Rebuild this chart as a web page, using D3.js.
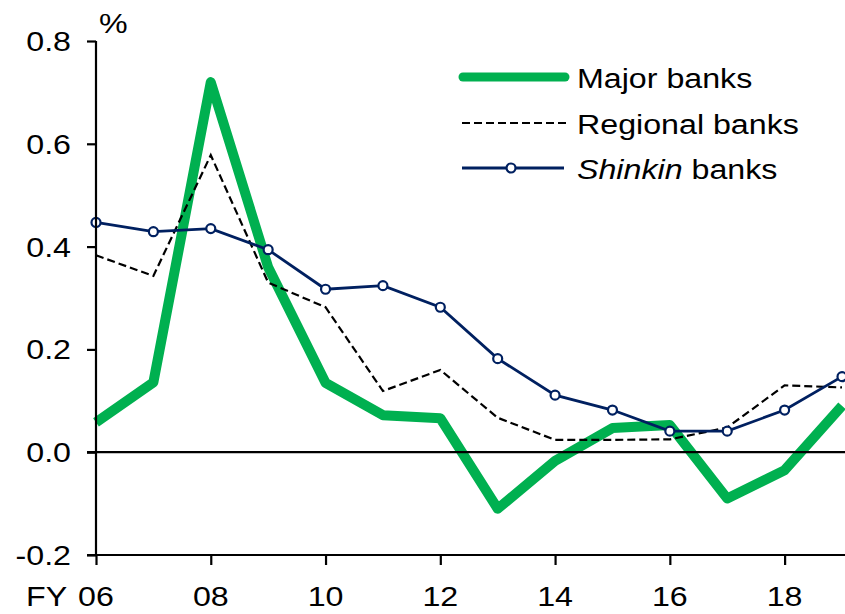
<!DOCTYPE html>
<html>
<head>
<meta charset="utf-8">
<script src="https://cdn.jsdelivr.net/npm/d3@7"></script>
<style>
  body { margin: 0; background: #fff; }
  text { font-family: "Liberation Sans", Arial, sans-serif; fill: #000; }
</style>
</head>
<body>
<div id="chart"></div>
<script>
// fiscal years and series (%)
var years = [2006, 2007, 2008, 2009, 2010, 2011, 2012, 2013, 2014, 2015, 2016, 2017, 2018, 2019];
var majorBanks = [0.058, 0.136, 0.72, 0.36, 0.135, 0.072, 0.066, -0.11, -0.017, 0.047, 0.053, -0.09, -0.035, 0.09];
var regionalBanks = [0.383, 0.343, 0.578, 0.33, 0.282, 0.119, 0.16, 0.067, 0.024, 0.024, 0.025, 0.048, 0.13, 0.126];
var shinkinBanks = [0.447, 0.429, 0.435, 0.394, 0.317, 0.324, 0.282, 0.182, 0.111, 0.082, 0.041, 0.041, 0.082, 0.147];
var yTicks = [-0.2, 0.0, 0.2, 0.4, 0.6, 0.8];
var xTicks = [2006, 2008, 2010, 2012, 2014, 2016, 2018];

var width = 845, height = 614;
var sx = 1.15; // text is a little wider than tall in the original

var svg = d3.select("#chart").append("svg")
    .attr("width", width)
    .attr("height", height);

var x = d3.scaleLinear().domain([2006, 2019]).range([96, 842]);
var y = d3.scaleLinear().domain([-0.2, 0.8]).range([555, 41]);

function label(txt, px, py, anchor) {
    return svg.append("text")
        .attr("transform", "translate(" + px + "," + py + ") scale(" + sx + ",1)")
        .attr("text-anchor", anchor || "start")
        .style("font-size", "28px")
        .text(txt);
}

// series
var line = d3.line()
    .x(function(d, i){ return x(years[i]); })
    .y(function(d){ return y(d); });

svg.append("path")
    .attr("d", line(majorBanks))
    .attr("fill", "none")
    .attr("stroke", "#00B050")
    .attr("stroke-width", 10)
    .attr("stroke-linejoin", "round");

svg.append("path")
    .attr("d", line(regionalBanks))
    .attr("fill", "none")
    .attr("stroke", "#000")
    .attr("stroke-width", 2.2)
    .attr("stroke-dasharray", "8,4");

svg.append("path")
    .attr("d", line(shinkinBanks))
    .attr("fill", "none")
    .attr("stroke", "#002060")
    .attr("stroke-width", 2.8);

svg.selectAll("circle.shinkin")
    .data(shinkinBanks)
    .enter()
    .append("circle")
    .attr("class", "shinkin")
    .attr("cx", function(d, i){ return x(years[i]); })
    .attr("cy", function(d){ return y(d); })
    .attr("r", 4.5)
    .attr("fill", "#fff")
    .attr("stroke", "#002060")
    .attr("stroke-width", 2.2);

// zero line and bottom axis line
svg.append("line")
    .attr("x1", 87).attr("x2", 845)
    .attr("y1", y(0)).attr("y2", y(0))
    .attr("stroke", "#000").attr("stroke-width", 2.2);

svg.append("line")
    .attr("x1", 87).attr("x2", 845)
    .attr("y1", y(-0.2)).attr("y2", y(-0.2))
    .attr("stroke", "#000").attr("stroke-width", 2.2);

// y axis
var yAxis = svg.append("g")
    .attr("transform", "translate(" + x(2006) + ",0)")
    .call(d3.axisLeft(y).tickValues(yTicks).tickSize(9).tickFormat(""));
yAxis.select(".domain").attr("stroke-width", 2.2).attr("d", "M0," + y(-0.2) + "V" + y(0.8));
yAxis.selectAll(".tick line").attr("stroke-width", 2.2);

yTicks.forEach(function(t){
    label(t.toFixed(1), 71, y(t) + 10, "end");
});

// x axis ticks
var xAxis = svg.append("g")
    .attr("transform", "translate(0," + y(-0.2) + ")")
    .call(d3.axisBottom(x).tickValues(xTicks).tickSize(10).tickFormat(""));
xAxis.select(".domain").remove();
xAxis.selectAll(".tick line").attr("stroke-width", 2.2);

xTicks.forEach(function(t){
    label(d3.format("02d")(t % 100), x(t), 606, "middle");
});
label("FY", 26, 606);
label("%", 99, 33);

// legend
svg.append("line").attr("x1", 463).attr("x2", 565).attr("y1", 77).attr("y2", 77)
    .attr("stroke", "#00B050").attr("stroke-width", 9).attr("stroke-linecap", "round");
svg.append("line").attr("x1", 462).attr("x2", 567).attr("y1", 123).attr("y2", 123)
    .attr("stroke", "#000").attr("stroke-width", 2.2).attr("stroke-dasharray", "8,4");
svg.append("line").attr("x1", 462).attr("x2", 564).attr("y1", 168).attr("y2", 168)
    .attr("stroke", "#002060").attr("stroke-width", 2.8);
svg.append("circle").attr("cx", 511).attr("cy", 168).attr("r", 4.5)
    .attr("fill", "#fff").attr("stroke", "#002060").attr("stroke-width", 2.2);

label("Major banks", 577, 88);
label("Regional banks", 577, 134);
var sh = label("", 577, 179);
sh.append("tspan").style("font-style", "italic").text("Shinkin");
sh.append("tspan").text(" banks");
</script>
</body>
</html>
